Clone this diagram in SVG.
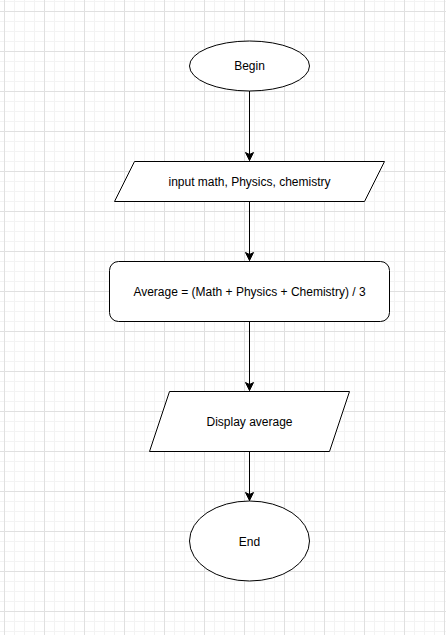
<svg xmlns="http://www.w3.org/2000/svg" width="446" height="635" viewBox="0 0 446 635">
<defs>
<pattern id="grid" patternUnits="userSpaceOnUse" x="4" y="11" width="40" height="40">
<path d="M10.5 0V40M20.5 0V40M30.5 0V40M0 10.5H40M0 20.5H40M0 30.5H40" stroke="#f3f3f3" stroke-width="1" fill="none"/>
<path d="M0.5 0V40M0 0.5H40" stroke="#e0e0e0" stroke-width="1" fill="none"/>
</pattern>
<marker id="arr" markerWidth="10" markerHeight="10" refX="9" refY="5" orient="auto" markerUnits="userSpaceOnUse">
<path d="M1 1L9 5L1 9L3 5Z" fill="#000" stroke="#000" stroke-width="1"/>
</marker>
<style>
.s{fill:#fff;stroke:#000;stroke-width:1}
.t{font-family:"Liberation Sans",Arial,sans-serif;font-size:12px;fill:#000;text-anchor:middle;dominant-baseline:central}
.c{stroke:#000;stroke-width:1;fill:none;marker-end:url(#arr)}
</style>
</defs>
<rect width="446" height="635" fill="#fff"/>
<rect width="446" height="635" fill="url(#grid)"/>
<g id="connectors">
<path class="c" d="M249.5 91V160.5"/>
<path class="c" d="M249.5 201V260.5"/>
<path class="c" d="M249.5 321V390.5"/>
<path class="c" d="M249.5 451V500.5"/>
</g>
<g id="begin">
<ellipse class="s" cx="249.5" cy="66" rx="60" ry="25"/>
<text class="t" x="249.5" y="66">Begin</text>
</g>
<g id="input">
<polygon class="s" points="134.5,161.5 384.5,161.5 364.5,201.5 114.5,201.5"/>
<text class="t" x="249.5" y="182">input math, Physics, chemistry</text>
</g>
<g id="average">
<rect class="s" x="109.5" y="261.5" width="280" height="60" rx="9" ry="9"/>
<text class="t" x="249.5" y="292">Average = (Math + Physics + Chemistry) / 3</text>
</g>
<g id="display">
<polygon class="s" points="169.5,391.5 349.5,391.5 329.5,451.5 149.5,451.5"/>
<text class="t" x="249.5" y="422">Display average</text>
</g>
<g id="end">
<ellipse class="s" cx="249.5" cy="541" rx="60" ry="40"/>
<text class="t" x="249.5" y="542">End</text>
</g>
</svg>
